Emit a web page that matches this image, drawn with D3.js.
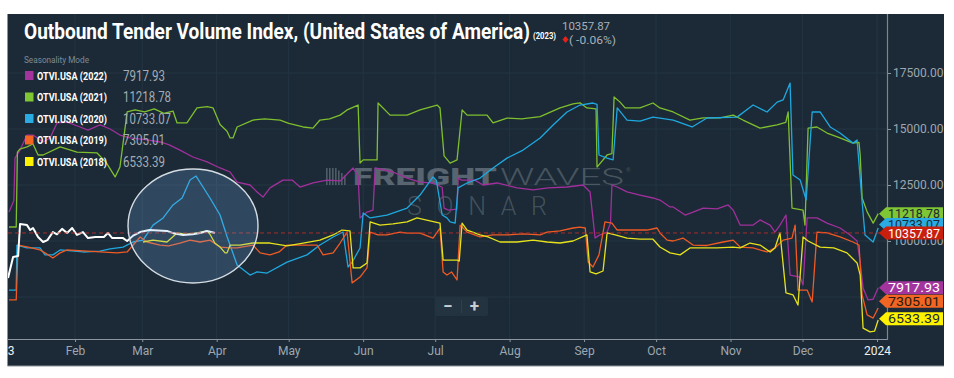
<!DOCTYPE html>
<html><head><meta charset="utf-8">
<script src="https://cdn.jsdelivr.net/npm/d3@7"></script>
<style>
html,body{margin:0;padding:0;background:#fff;}
svg{display:block;font-family:Roboto,"Noto Sans",sans-serif;}
</style></head>
<body>
<svg id="chart" width="954" height="378"></svg>
<script>
// ---------------- DATA (day of year, index value) ----------------
const seriesNames = ["OTVI.USA (2022)","OTVI.USA (2021)","OTVI.USA (2020)","OTVI.USA (2019)","OTVI.USA (2018)"];
const lastValues  = [7917.93, 11218.78, 10733.07, 7305.01, 6533.39];
const currentValue = 10357.87;
const currentChange = "( -0.06%)";
const yGridValues = [7500, 10000, 12500, 15000, 17500];
const yTickValues = [10000, 12500, 15000, 17500];

const purple2022 = [[3.5,11290],[5.5,11800],[6,13700],[8.1,14060],[11,14730],[13.5,14730],[17.7,14420],[20.6,14600],[23.5,15270],[27.7,15310],[33.1,15090],[36.4,14950],[41.4,15180],[45.6,15000],[49.7,14730],[53.9,14600],[61,14510],[66.4,14420],[70,14300],[74.7,14060],[80.1,13750],[86,13530],[91.4,13260],[95.6,13080],[98.5,12630],[103.9,12500],[106.8,12190],[109.3,11960],[112.2,12370],[117.6,12720],[121.4,12720],[124.7,12410],[130.1,12590],[136,12720],[141.4,12680],[146.8,13260],[148.9,12900],[149.7,11030],[152.6,11290],[155.1,11380],[156,13260],[163.4,13080],[169.3,12810],[174.7,12630],[180.1,12590],[183.9,12400],[184.7,11470],[186.5,11380],[190.1,11420],[190.5,12810],[192,12720],[197.5,12720],[200.9,12500],[206.8,12590],[215.1,12370],[221.8,12280],[228,12370],[235.9,12410],[242.6,12500],[245.5,12190],[247.6,10130],[249.2,10250],[252.6,10400],[254,10800],[254.6,12500],[256.8,12410],[260.9,12190],[266.3,12050],[271.7,11920],[274.6,11830],[278.8,11520],[280.1,11520],[285.1,11160],[288.4,11290],[292.6,11470],[298.4,11430],[303,11610],[305.1,11380],[308,10710],[313.4,10710],[316.3,10940],[320.5,10710],[322.5,10400],[324.6,10710],[327.1,11160],[328.8,8480],[333,8390],[334.2,8040],[335.9,11030],[340,11030],[344.2,10800],[349.6,10580],[353.8,10270],[356.7,10000],[358,9060],[359.2,7900],[361.3,7370],[363.4,7400],[365.5,7918]];

const green2021 = [[3.5,10625],[6.5,10625],[7,13970],[8,14100],[11,14200],[13.5,14330],[15.6,13840],[17.7,13840],[24.8,14200],[31.8,13970],[40.2,13930],[44,13500],[47.7,12860],[49.7,13300],[52.7,15760],[56,15850],[60,15760],[64,15900],[68,15700],[71.8,15800],[73.5,15270],[77.6,15270],[81.8,15940],[86,16000],[88.5,15940],[91.4,15200],[94.3,14900],[95.6,14600],[96.8,14600],[98.5,15090],[105.1,15400],[110,15450],[116.4,15400],[120,15250],[126,15090],[130.1,15040],[133,15400],[137,15450],[141.4,15620],[144.3,15850],[148.9,16070],[149.7,13480],[151,13620],[156.8,13620],[157.2,16160],[162.2,15620],[169.3,15620],[174.7,15850],[181.8,16070],[183,15940],[184.7,13800],[187.2,13480],[190.1,13620],[192.2,15850],[194.3,15620],[202.6,15620],[205.1,15270],[210.9,15490],[217,15450],[224.7,15550],[233,15940],[238.4,16120],[241.3,16170],[244.2,15940],[248,15900],[248.4,13300],[252.6,13840],[254.6,13900],[255.5,16430],[258,16200],[260.1,15940],[266.3,15940],[271.7,16160],[274.6,15940],[280.1,15760],[287.1,15400],[292.6,15500],[299.6,15500],[305.1,15620],[309.2,15400],[316.3,15040],[323.4,15180],[327,15300],[328,15760],[329.6,11470],[334.2,11380],[335,10710],[336.3,15040],[340,15090],[344.2,14820],[349.6,14600],[355,14370],[357.5,14400],[358,13840],[358.8,11920],[360.9,11300],[363.4,10800],[365.5,11220]];

const blue2020 = [[3.5,7810],[6.5,7810],[6.8,9820],[11,9690],[16.4,9690],[18.5,9380],[21.8,9380],[24.8,9600],[34.3,9510],[41.4,9550],[45.6,9650],[51,9730],[55.2,9955],[59.3,10040],[63.5,10710],[67.7,11030],[71.8,11610],[75.6,11920],[78.9,12720],[81.4,12900],[84.3,12410],[87.2,11920],[91.4,11160],[94.3,10200],[98.5,8930],[103.9,8480],[106.8,8620],[111,8570],[119.3,9060],[127.6,9380],[133,9820],[138.5,10180],[142.6,10400],[144.7,8840],[146.4,9050],[149.7,9690],[151,11250],[153.9,11030],[160.9,11160],[169.3,11470],[174.7,12050],[180.1,12860],[181.5,12700],[183.9,11160],[185.9,11030],[187.2,10850],[189.3,10800],[190.5,12370],[194.3,12590],[199.7,12810],[205.1,13260],[210.9,13700],[217.6,14060],[224.7,14600],[230.1,15180],[235.9,15760],[241.3,16070],[246.7,16160],[248.4,16100],[249.2,13840],[252.6,13700],[255.1,13620],[256.8,15940],[260.9,15400],[266.3,15350],[271.7,15530],[274.6,15490],[280.1,15400],[288,15090],[294.2,15490],[306.7,15530],[313.4,16070],[319.2,15760],[323.4,16200],[325.9,16300],[328.8,17050],[330,12950],[333,12720],[335.5,11830],[338,15760],[341.3,15760],[345.5,15090],[349.6,14820],[355,14370],[356.7,14510],[358.8,11740],[360,10270],[363.4,9955],[365.5,10580]];

const orange2019 = [[3.5,7370],[6.5,7370],[7.3,9820],[11,9740],[16.4,9600],[18.5,9470],[21.8,9240],[24.8,9470],[27.7,9600],[34.3,9560],[41.4,9510],[48.5,9470],[52.7,9510],[58.1,10180],[61,9955],[66.4,9820],[70,9780],[74.7,9910],[78.9,10040],[83.1,9955],[87.2,10040],[91.4,9730],[95.6,9690],[98.5,9690],[105.1,9820],[108.1,9470],[112.2,9380],[116,9510],[119.3,9820],[131.8,9820],[134.3,9380],[138.5,9470],[141.4,9910],[144.3,10400],[146.4,8130],[149.7,8390],[152.6,8800],[153.9,10400],[157.2,10270],[160.9,10270],[166.4,10400],[169.3,10350],[174.7,10350],[180.1,10130],[183,10580],[184.3,8620],[185.9,8480],[187.8,8620],[190.1,8260],[191.4,10710],[194.3,10400],[199.7,10180],[205.1,10270],[210.9,10270],[217.6,10320],[224.7,10270],[227.6,10400],[233,10450],[238.4,10580],[241.3,10620],[243.5,10580],[244.7,9060],[246.7,8840],[249.2,9380],[251.7,10850],[254.6,10800],[256.8,10490],[269.2,10490],[273.4,10580],[274.6,10360],[277.6,10040],[280.1,10000],[284.2,10130],[288.4,9820],[294.2,9800],[300.9,9955],[305.1,10040],[308,9730],[313.4,9690],[319.2,9510],[322.5,9690],[325.9,10040],[329.6,10130],[330.9,10710],[332.1,7810],[335.9,7810],[338,7280],[340,10400],[344.2,10360],[349.6,10180],[355,9955],[357.5,9820],[358.8,7590],[360.9,6700],[363.4,6560],[365.5,7010]];

const yellow2018 = [[59.3,9955],[63.5,10040],[69.3,9955],[73.5,10360],[77.6,10300],[81.8,10360],[86,10450],[87.2,10300],[89.3,9900],[91.4,9730],[93.5,9470],[94.3,9470],[95.6,9820],[99.7,9820],[105.1,9910],[112.2,9910],[119.3,9780],[126,9910],[133,10040],[138.5,10270],[142.2,10490],[145.5,10450],[146.8,8800],[149.7,8800],[152.6,9020],[153.9,10850],[158,10710],[163.4,10760],[169.3,10850],[173.4,11030],[177,10940],[183,10800],[184.3,9150],[190.1,9150],[191,9100],[192.2,10800],[194.3,10490],[199.7,10270],[203,10180],[208,9955],[215.1,9955],[221.8,10040],[227.6,9955],[233,9910],[238.4,10000],[244.2,10270],[245.5,8620],[248,8530],[250.9,8660],[252.6,10360],[256,10270],[260.9,10130],[266.3,10080],[271.7,10080],[274.6,9730],[278.8,9470],[283,9380],[287.1,9690],[298.4,9690],[305.1,9730],[308,9690],[312.1,9910],[316.3,9820],[320.5,9510],[322.5,9690],[324.6,10360],[327.1,7680],[330,7600],[332.1,7140],[334.2,10180],[336.3,10000],[341.3,9730],[347,9690],[352.5,9470],[356.7,9020],[358,8480],[359.2,6110],[362.1,5940],[364,5980],[365.5,6470]];

const white2023 = [[3.1,8350],[5.2,9290],[7.3,9330],[8.1,10760],[11,10710],[12.3,10490],[13.5,10580],[15.6,10180],[17.7,9955],[19.5,10040],[21.8,10400],[23.5,10300],[25.6,10540],[27.7,10360],[29.8,10580],[31.8,10270],[34.3,10400],[36.4,10130],[39.5,10180],[43,10180],[44.7,10360],[46.5,10130],[51,10130],[52.7,10000],[55.2,10240],[58.1,10400],[62,10490],[69.3,10450],[71.5,10360],[76,10270],[80,10300],[83.1,10360],[86,10450],[89.3,10360]];

const seriesData   = [purple2022, green2021, blue2020, orange2019, yellow2018];
const seriesColors = ["#a1309c","#7fbf2e","#1fa8e0","#f05a24","#e6e21c"];
const tagColors    = ["#a3349d","#80c634","#2aabe2","#f26522","#fff200"];
const tagText      = ["#ffffff","#1b2a36","#1b2a36","#2a1a10","#1b2a36"];

// ---------------- LAYOUT ----------------
const svg = d3.select("#chart");
const L = 8, R = 888, T = 14, B = 339;
const t0 = Date.UTC(2023,0,1);
const toDate = d => new Date(t0 + d*86400000);
const x = d3.scaleUtc().domain([new Date(t0), new Date(Date.UTC(2024,0,1))]).range([0.6, 877]);
const y = d3.scaleLinear().domain([10000, 17500]).range([241, 73]);

const bg = "#1b2a36";
svg.append("rect").attr("x",7.5).attr("y",14).attr("width",936.5).attr("height",352).attr("fill",bg);
svg.append("line").attr("x1",7.5).attr("x2",944).attr("y1",366).attr("y2",366).attr("stroke","#8d969e").attr("stroke-width",1);

const defs = svg.append("defs");
defs.append("clipPath").attr("id","plotclip").append("rect").attr("x",L).attr("y",T).attr("width",R-L).attr("height",B-T);
defs.append("clipPath").attr("id","frameclip").append("rect").attr("x",7.5).attr("y",14).attr("width",936.5).attr("height",352);

// gridlines
const monthTicks = d3.utcMonth.range(new Date(t0), new Date(Date.UTC(2024,0,2)));
const grid = svg.append("g").attr("clip-path","url(#plotclip)");
grid.selectAll("line.v").data(monthTicks).join("line")
  .attr("x1",d=>x(d)).attr("x2",d=>x(d)).attr("y1",T).attr("y2",B)
  .attr("stroke","#243442").attr("stroke-width",1);
grid.selectAll("line.h").data(yGridValues).join("line")
  .attr("x1",L).attr("x2",R).attr("y1",d=>y(d)).attr("y2",d=>y(d))
  .attr("stroke","#243442").attr("stroke-width",1);

// watermark
const wm = svg.append("g").attr("pointer-events","none");
const icon = wm.append("g").attr("fill","rgba(200,210,220,0.30)");
[0,3,6,9,12,15,18].forEach((o,i)=>{
  const h = i<4 ? 17 : 17 - (i-3)*2.5;
  icon.append("rect").attr("x",326+o).attr("y",185-h).attr("width",1.6).attr("height",h);
});
wm.append("text").attr("x",353).attr("y",185).attr("font-size",24).attr("font-weight",900)
  .attr("fill","rgba(205,212,220,0.34)").attr("textLength",144).attr("lengthAdjust","spacingAndGlyphs").text("FREIGHT");
wm.append("text").attr("x",500).attr("y",185).attr("font-size",24).attr("font-weight",300)
  .attr("fill","rgba(205,212,220,0.26)").attr("textLength",124).attr("lengthAdjust","spacingAndGlyphs").text("WAVES");
wm.append("text").attr("x",626).attr("y",172).attr("font-size",6)
  .attr("fill","rgba(205,212,220,0.26)").text("®");
wm.append("text").attr("x",407).attr("y",215).attr("font-size",25).attr("font-weight",300)
  .attr("fill","rgba(205,212,220,0.24)").attr("textLength",140).attr("lengthAdjust","spacing").text("SONAR");

// lines
const line = d3.line().x(d=>x(toDate(d[0]))).y(d=>y(d[1]));
const lines = svg.append("g").attr("clip-path","url(#plotclip)");
seriesData.forEach((s,i)=>{
  lines.append("path").attr("d",line(s)).attr("fill","none")
    .attr("stroke",seriesColors[i]).attr("stroke-width",1.3).attr("stroke-linejoin","round");
});
lines.append("path").attr("d",line(white2023)).attr("fill","none")
  .attr("stroke","#ffffff").attr("stroke-width",2).attr("stroke-linejoin","round");

// current value dashed line
lines.append("line").attr("x1",L).attr("x2",R).attr("y1",y(currentValue)).attr("y2",y(currentValue))
  .attr("stroke","#c0302a").attr("stroke-width",1).attr("stroke-dasharray","4,3").attr("opacity",0.85);

// highlight ellipse (annotation)
svg.append("ellipse").attr("cx",193).attr("cy",226).attr("rx",65).attr("ry",57)
  .attr("fill","rgba(124,180,240,0.22)").attr("stroke","#d5dce3").attr("stroke-width",1.4);

// x axis
const xAxis = d3.axisBottom(x).tickValues(monthTicks).tickSize(3).tickPadding(4)
  .tickFormat(d => d.getUTCMonth()===0 ? d3.utcFormat("%Y")(d) : d3.utcFormat("%b")(d));
const gxOuter = svg.append("g").attr("clip-path","url(#frameclip)");
const gx = gxOuter.append("g").attr("transform",`translate(0,${B})`).call(xAxis);
gx.select(".domain").remove();
gx.selectAll(".tick line").attr("stroke","#8d969e");
gx.selectAll(".tick text").attr("fill",d=>d.getUTCMonth()===0?"#eef0f2":"#9ea7af")
  .attr("font-size",12).attr("font-family","Roboto");
svg.append("line").attr("x1",L).attr("x2",R).attr("y1",B+0.5).attr("y2",B+0.5).attr("stroke","#8d969e").attr("stroke-width",1.2);

// y axis
const yAxis = d3.axisRight(y).tickValues(yTickValues).tickSize(3).tickPadding(2).tickFormat(d3.format(".2f"));
const gy = svg.append("g").attr("transform",`translate(${R},0)`).call(yAxis);
gy.select(".domain").remove();
gy.selectAll(".tick line").attr("stroke","#8d969e");
gy.selectAll(".tick text").attr("fill","#9ea7af").attr("font-size",12).attr("font-family","Roboto");
svg.append("line").attr("x1",R-0.5).attr("x2",R-0.5).attr("y1",T).attr("y2",B+1).attr("stroke","#7c868f").attr("stroke-width",1.2);

// value tags
function tag(v, fill, tcol){
  const cy = y(v), h = 13, x0 = 879, x1 = 886, x2 = 943;
  const g = svg.append("g");
  g.append("path").attr("d",`M${x0},${cy} L${x1},${cy-h/2} L${x2},${cy-h/2} L${x2},${cy+h/2} L${x1},${cy+h/2} Z`)
    .attr("fill",fill);
  g.append("text").attr("x",888).attr("y",cy+4.6).attr("font-size",13.5).attr("fill",tcol)
    .attr("font-family","Roboto").attr("textLength",52).attr("lengthAdjust","spacingAndGlyphs")
    .text(v.toFixed(2));
}
[1,2].forEach(i=>tag(lastValues[i], tagColors[i], tagText[i]));
tag(currentValue, "#c91f0d", "#ffffff");
[0,3,4].forEach(i=>tag(lastValues[i], tagColors[i], tagText[i]));

// title
svg.append("text").attr("x",24).attr("y",39).attr("font-size",22.5).attr("font-weight",700)
  .attr("fill","#ffffff").attr("textLength",506).attr("lengthAdjust","spacingAndGlyphs")
  .text("Outbound Tender Volume Index, (United States of America)");
svg.append("text").attr("x",533).attr("y",39).attr("font-size",8.5).attr("font-weight",700)
  .attr("fill","#ffffff").attr("textLength",23).attr("lengthAdjust","spacingAndGlyphs").text("(2023)");
svg.append("text").attr("x",562).attr("y",29.5).attr("font-size",11.5).attr("fill","#a7b0b8")
  .attr("textLength",48).attr("lengthAdjust","spacingAndGlyphs").text(currentValue.toFixed(2));
svg.append("path").attr("d","M565.5,36 L568.5,39.5 L565.5,43 L562.5,39.5 Z").attr("fill","#e8201a");
svg.append("text").attr("x",569).attr("y",44).attr("font-size",11.5).attr("fill","#a7b0b8")
  .attr("textLength",47).attr("lengthAdjust","spacingAndGlyphs").text(currentChange);

// legend
svg.append("text").attr("x",24).attr("y",63).attr("font-size",9.5).attr("fill","#7f8b96")
  .attr("textLength",65).attr("lengthAdjust","spacingAndGlyphs").text("Seasonality Mode");
const rowY = [75.5, 97, 118.5, 140, 161.5];
seriesNames.forEach((n,i)=>{
  const ry = rowY[i];
  svg.append("rect").attr("x",25).attr("y",ry-4.5).attr("width",8.5).attr("height",9).attr("fill",tagColors[i]);
  svg.append("text").attr("x",37).attr("y",ry+4).attr("font-size",11.5).attr("font-weight",700)
    .attr("fill","#ffffff").attr("textLength",70).attr("lengthAdjust","spacingAndGlyphs").text(n);
  const s = lastValues[i].toFixed(2);
  svg.append("text").attr("x",123).attr("y",ry+5).attr("font-size",14).attr("fill","#a3acb4")
    .attr("textLength",s.length*6).attr("lengthAdjust","spacingAndGlyphs").text(s);
});

// zoom buttons
svg.append("rect").attr("x",435).attr("y",297).attr("width",53).attr("height",19).attr("rx",2).attr("fill","#233340");
svg.append("line").attr("x1",461.5).attr("x2",461.5).attr("y1",300).attr("y2",313).attr("stroke","#2f404d");
svg.append("text").attr("x",448).attr("y",311.5).attr("text-anchor","middle").attr("font-size",17).attr("font-weight",700).attr("fill","#c9ced3").text("−");
svg.append("text").attr("x",474.5).attr("y",312).attr("text-anchor","middle").attr("font-size",17).attr("font-weight",700).attr("fill","#c9ced3").text("+");
</script>
</body></html>
